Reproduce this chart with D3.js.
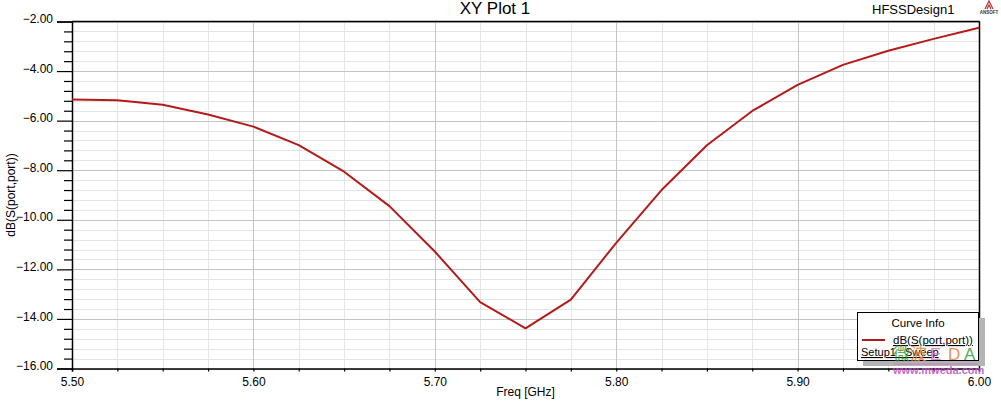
<!DOCTYPE html>
<html>
<head>
<meta charset="utf-8">
<script src="https://cdn.jsdelivr.net/npm/d3@7"></script>
<style>
html,body{margin:0;padding:0;background:#fff;}
svg{display:block;font-family:"Liberation Sans",Arial,sans-serif;}
</style>
</head>
<body>
<svg id="chart" width="1001" height="401"></svg>
<script>
// ---- data ----
const freq = [5.500,5.525,5.550,5.575,5.600,5.625,5.650,5.675,5.700,5.725,5.750,5.775,5.800,5.825,5.850,5.875,5.900,5.925,5.950,5.975,6.000];
const s11dB = [-5.15,-5.18,-5.36,-5.75,-6.24,-6.99,-8.06,-9.45,-11.28,-13.32,-14.38,-13.22,-10.93,-8.80,-6.99,-5.61,-4.56,-3.75,-3.18,-2.70,-2.25];
const xTicks = [5.50,5.60,5.70,5.80,5.90,6.00];
const yTicks = [-2,-4,-6,-8,-10,-12,-14,-16];
const seriesName = "dB(S(port,port))";
const setupName = "Setup1 : Sweep";
const titleText = "XY Plot 1";
const designText = "HFSSDesign1";
const xLabel = "Freq [GHz]";
const yLabel = "dB(S(port,port))";

// ---- layout ----
const svg = d3.select("#chart");
const L = 72, R = 979, T = 21.5, B = 368.5;
const x = d3.scaleLinear().domain([5.5, 6.0]).range([L, R]);
const y = d3.scaleLinear().domain([-16, -2]).range([B, T]);

// minor grid
const xMinor = d3.range(0, 21).map(i => 5.5 + i * 0.025);
const yMinor = d3.range(0, 36).map(i => -16 + i * 0.4);

const g = svg.append("g");
g.selectAll(".xminor").data(xMinor).enter().append("line")
  .attr("x1", d => Math.round(x(d)) + 0.5).attr("x2", d => Math.round(x(d)) + 0.5)
  .attr("y1", T).attr("y2", B).attr("stroke", "#e4e4e4").attr("stroke-width", 1);
g.selectAll(".yminor").data(yMinor).enter().append("line")
  .attr("y1", d => Math.round(y(d)) + 0.5).attr("y2", d => Math.round(y(d)) + 0.5)
  .attr("x1", L).attr("x2", R).attr("stroke", "#e4e4e4").attr("stroke-width", 1);
// major grid
g.selectAll(".xmajor").data(xTicks).enter().append("line")
  .attr("x1", d => Math.round(x(d)) + 0.5).attr("x2", d => Math.round(x(d)) + 0.5)
  .attr("y1", T).attr("y2", B).attr("stroke", "#c4c4c4").attr("stroke-width", 1);
g.selectAll(".ymajor").data(yTicks).enter().append("line")
  .attr("y1", d => Math.round(y(d)) + 0.5).attr("y2", d => Math.round(y(d)) + 0.5)
  .attr("x1", L).attr("x2", R).attr("stroke", "#c4c4c4").attr("stroke-width", 1);

// frame top/right
svg.append("line").attr("x1", L).attr("x2", R + 0.5).attr("y1", T).attr("y2", T).attr("stroke", "#000").attr("stroke-width", 1.5);
svg.append("line").attr("x1", R + 0.5).attr("x2", R + 0.5).attr("y1", T).attr("y2", B).attr("stroke", "#000").attr("stroke-width", 1.5);

// y axis
const yAxis = d3.axisLeft(y).tickValues(yTicks).tickFormat(d3.format(".2f")).tickSize(15).tickPadding(4);
const ya = svg.append("g").attr("transform", `translate(${L},0)`).call(yAxis);
ya.select(".domain").attr("stroke", "#000").attr("stroke-width", 1.5);
ya.selectAll(".tick line").attr("stroke", "#000").attr("stroke-width", 1.2);
ya.selectAll("text").attr("font-size", 12).attr("fill", "#000").attr("font-family", "Liberation Sans, Arial, sans-serif").attr("dy", "0.1em");
const yMinorAxis = d3.axisLeft(y).tickValues(yMinor.filter(v => !yTicks.some(t => Math.abs(t - v) < 1e-6))).tickSize(8).tickFormat("");
const yma = svg.append("g").attr("transform", `translate(${L},0)`).call(yMinorAxis);
yma.select(".domain").remove();
yma.selectAll(".tick line").attr("stroke", "#000").attr("stroke-width", 1.2);

// x axis
const xAxis = d3.axisBottom(x).tickValues(xTicks).tickFormat(d3.format(".2f")).tickSize(3).tickPadding(6);
const xa = svg.append("g").attr("transform", `translate(0,${B})`).call(xAxis);
xa.select(".domain").attr("stroke", "#000").attr("stroke-width", 1.5);
xa.selectAll(".tick line").attr("stroke", "#000").attr("stroke-width", 1.2);
xa.selectAll("text").attr("font-size", 12).attr("fill", "#000").attr("font-family", "Liberation Sans, Arial, sans-serif");
const xMinorAxis = d3.axisBottom(x).tickValues(xMinor.filter(v => !xTicks.some(t => Math.abs(t - v) < 1e-6))).tickSize(3).tickFormat("");
const xma = svg.append("g").attr("transform", `translate(0,${B})`).call(xMinorAxis);
xma.select(".domain").remove();
xma.selectAll(".tick line").attr("stroke", "#000").attr("stroke-width", 1.2);

// curve
const line = d3.line().x((d, i) => x(freq[i])).y(d => y(d));
svg.append("path").datum(s11dB).attr("d", line)
  .attr("fill", "none").attr("stroke", "#b31b1b").attr("stroke-width", 2).attr("stroke-linejoin", "round");

// titles
svg.append("text").attr("x", 495).attr("y", 13.5).attr("text-anchor", "middle")
  .attr("font-size", 17).attr("fill", "#000").text(titleText);
svg.append("text").attr("x", 872).attr("y", 14).attr("font-size", 13).attr("fill", "#000").text(designText);
// ANSOFT logo
const logo = svg.append("g").attr("transform", "translate(989,0)");
logo.append("path").attr("d", "M-4,9 L0,1 L4,9 M-2,9 L0,5 L2,9").attr("fill", "none").attr("stroke", "#b03030").attr("stroke-width", 1.2);
logo.append("text").attr("x", 0).attr("y", 14).attr("text-anchor", "middle").attr("font-size", 4.5).attr("font-weight", "bold").attr("fill", "#333").text("ANSOFT");

svg.append("text").attr("x", (L + R) / 2).attr("y", 396).attr("text-anchor", "middle")
  .attr("font-size", 12).attr("fill", "#000").text(xLabel);
svg.append("text").attr("transform", `translate(15,${(T + B) / 2}) rotate(-90)`).attr("text-anchor", "middle")
  .attr("font-size", 12).attr("fill", "#000").text(yLabel);

// legend
const lg = svg.append("g");
lg.append("rect").attr("x", 979).attr("y", 318).attr("width", 6).attr("height", 48).attr("fill", "#b4b4b4");
lg.append("rect").attr("x", 863).attr("y", 360).attr("width", 122).attr("height", 6).attr("fill", "#b4b4b4");
lg.append("rect").attr("x", 857.5).attr("y", 312.5).attr("width", 121).attr("height", 48)
  .attr("fill", "#fff").attr("stroke", "#000").attr("stroke-width", 1);
lg.append("text").attr("x", 918).attr("y", 327).attr("text-anchor", "middle").attr("font-size", 11.5).attr("fill", "#000").text("Curve Info");
lg.append("line").attr("x1", 862).attr("x2", 885).attr("y1", 340).attr("y2", 340).attr("stroke", "#b31b1b").attr("stroke-width", 2);
lg.append("text").attr("x", 893).attr("y", 344).attr("font-size", 11.5).attr("fill", "#000").attr("text-decoration", "underline").text(seriesName);
lg.append("text").attr("x", 861).attr("y", 356).attr("font-size", 11).attr("fill", "#000").attr("text-decoration", "underline").text(setupName);

// watermark
const wm = svg.append("g").attr("opacity", 0.85);
wm.append("text").attr("x", 893).attr("y", 360).attr("font-size", 17).attr("fill", "#3aa040").attr("font-family", "Noto Sans CJK SC").text("微");
wm.append("text").attr("x", 910).attr("y", 360).attr("font-size", 17).attr("fill", "#e8803a").attr("font-family", "Noto Sans CJK SC").text("波");
wm.append("text").attr("x", 930).attr("y", 360).attr("font-size", 17).attr("fill", "#e070c0").text("E");
wm.append("text").attr("x", 948).attr("y", 360).attr("font-size", 17).attr("fill", "#e8803a").text("D");
wm.append("text").attr("x", 964).attr("y", 360).attr("font-size", 17).attr("fill", "#3aa040").text("A");
wm.append("line").attr("x1", 893).attr("x2", 978).attr("y1", 364).attr("y2", 364).attr("stroke", "#d070d0").attr("stroke-width", 1);
wm.append("text").attr("x", 893).attr("y", 374).attr("font-size", 11).attr("font-weight", "bold").attr("fill", "#c050c0").text("www.mweda.com");
</script>
</body>
</html>
